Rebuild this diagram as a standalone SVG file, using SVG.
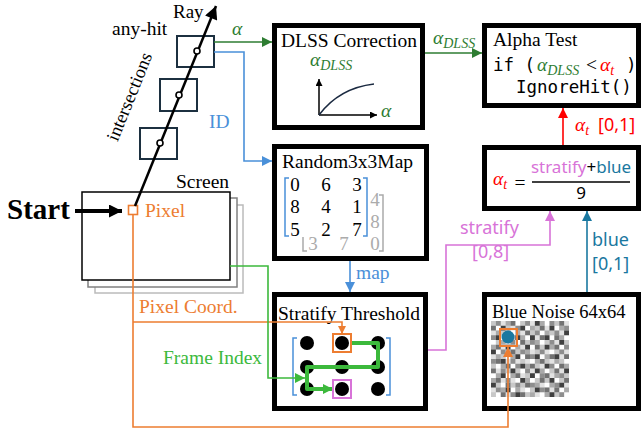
<svg xmlns="http://www.w3.org/2000/svg" width="641" height="430" viewBox="0 0 641 430">
  <style>
    .serif { font-family: "Liberation Serif", serif; font-size: 19.5px; fill: #000; }
    .it { font-style: italic; }
    .sub { font-size: 14px; font-style: italic; }
    .sans { font-family: "Noto Sans", sans-serif; font-size: 18px; }
    .mono { font-family: "DejaVu Sans Mono", monospace; font-size: 17.5px; fill: #000; }
    .box { fill: #fff; stroke: #000; stroke-width: 5; }
    .hit { fill: #fff; stroke: #1c3040; stroke-width: 2; }
    .wire { fill: none; stroke-width: 1.6; }
    .gray { fill: #ababab; }
  </style>
  <defs>
    <marker id="ah-black" viewBox="0 0 10 10" refX="10" refY="5" markerWidth="14" markerHeight="13" markerUnits="userSpaceOnUse" orient="auto"><path d="M0,0 L10,5 L0,10 z" fill="#000"/></marker>
    <marker id="ah-small" viewBox="0 0 10 10" refX="10" refY="5" markerWidth="7" markerHeight="7" markerUnits="userSpaceOnUse" orient="auto"><path d="M0,0 L10,5 L0,10 z" fill="#000"/></marker>
    <marker id="ah-dgreen" viewBox="0 0 10 10" refX="10" refY="5" markerWidth="12" markerHeight="10" markerUnits="userSpaceOnUse" orient="auto"><path d="M0,0 L10,5 L0,10 z" fill="#2e7d32"/></marker>
    <marker id="ah-lgreen" viewBox="0 0 10 10" refX="10" refY="5" markerWidth="11" markerHeight="10" markerUnits="userSpaceOnUse" orient="auto"><path d="M0,0 L10,5 L0,10 z" fill="#3cb93c"/></marker>
    <marker id="ah-blue" viewBox="0 0 10 10" refX="10" refY="5" markerWidth="11" markerHeight="10" markerUnits="userSpaceOnUse" orient="auto"><path d="M0,0 L10,5 L0,10 z" fill="#4a90d9"/></marker>
    <marker id="ah-red" viewBox="0 0 10 10" refX="10" refY="5" markerWidth="11" markerHeight="10" markerUnits="userSpaceOnUse" orient="auto"><path d="M0,0 L10,5 L0,10 z" fill="#ff0000"/></marker>
    <marker id="ah-pink" viewBox="0 0 10 10" refX="10" refY="5" markerWidth="11" markerHeight="10" markerUnits="userSpaceOnUse" orient="auto"><path d="M0,0 L10,5 L0,10 z" fill="#d873d8"/></marker>
    <marker id="ah-teal" viewBox="0 0 10 10" refX="10" refY="5" markerWidth="11" markerHeight="10" markerUnits="userSpaceOnUse" orient="auto"><path d="M0,0 L10,5 L0,10 z" fill="#1a78a0"/></marker>
    <marker id="ah-orange" viewBox="0 0 10 10" refX="10" refY="5" markerWidth="11" markerHeight="10" markerUnits="userSpaceOnUse" orient="auto"><path d="M0,0 L10,5 L0,10 z" fill="#ed7d31"/></marker>
    <marker id="ah-orange-s" viewBox="0 0 10 10" refX="10" refY="5" markerWidth="8" markerHeight="8" markerUnits="userSpaceOnUse" orient="auto"><path d="M0,0 L10,5 L0,10 z" fill="#ed7d31"/></marker>
  </defs>

  <!-- screen with stacked previous frames -->
  <g id="screen">
    <rect x="95" y="205" width="148" height="88" fill="#fff" stroke="#bbbbbb" stroke-width="1.5"/>
    <rect x="88" y="198" width="149" height="89" fill="#fff" stroke="#808080" stroke-width="1.5"/>
    <rect x="82" y="192" width="148" height="88" fill="#fff" stroke="#000" stroke-width="1.5"/>
    <text class="serif" x="176" y="188">Screen</text>
    <text class="serif" x="145" y="217" style="fill:#ed7d31">Pixel</text>
  </g>

  <g id="start">
    <text class="serif" x="7" y="219" style="font-size:29px;font-weight:bold">Start</text>
  </g>

  <!-- ray intersections -->
  <g id="intersections">
    <rect class="hit" x="140" y="128" width="37" height="31"/>
    <rect class="hit" x="160" y="79" width="37" height="32"/>
    <rect class="hit" x="177" y="36" width="37" height="31"/>
    <text class="serif" x="135" y="99" text-anchor="middle" transform="rotate(-68 135 99)" style="font-size:18.5px">intersections</text>
    <text class="serif" x="112" y="35">any-hit</text>
    <text class="serif" x="173" y="18" style="font-size:19px">Ray</text>
  </g>

  <g id="dlss">
    <rect class="box" x="274.5" y="25.5" width="148" height="102"/>
    <text class="serif" x="281" y="47">DLSS Correction</text>
    <text class="serif it" x="310" y="66" style="fill:#2e7d32">α<tspan class="sub" dy="4">DLSS</tspan></text>
    <path d="M319,115 V79" stroke="#000" stroke-width="1.5" fill="none" marker-end="url(#ah-small)"/>
    <path d="M319,115 H377" stroke="#000" stroke-width="1.5" fill="none" marker-end="url(#ah-small)"/>
    <path d="M319,115 C331,99 348,87 374,84" stroke="#1b2a41" stroke-width="1.6" fill="none"/>
    <text class="serif it" x="381" y="117" style="fill:#2e7d32">α</text>
  </g>

  <g id="alpha-test">
    <rect class="box" x="484.5" y="25.5" width="154" height="80"/>
    <text class="serif" x="493" y="46">Alpha Test</text>
    <text class="mono" x="493" y="71">if (</text>
    <text class="serif it" x="537" y="71" style="fill:#2e7d32">α<tspan class="sub" dy="4">DLSS</tspan></text>
    <text class="serif" x="586" y="71">&lt;</text>
    <text class="serif it" x="600" y="71" style="fill:#ff0000">α<tspan class="sub" dy="4">t</tspan></text>
    <text class="mono" x="626" y="71">)</text>
    <text class="mono" x="516" y="93">IgnoreHit()</text>
  </g>

  <g id="threshold-formula">
    <rect class="box" x="484.5" y="147.5" width="154" height="61"/>
    <text class="serif it" x="493" y="185" style="fill:#ff0000">α<tspan class="sub" dy="4">t</tspan></text>
    <text class="serif" x="520" y="189" text-anchor="middle">=</text>
    <line x1="532" y1="182" x2="630" y2="182" stroke="#000" stroke-width="1.5"/>
    <text class="sans" x="581" y="173" text-anchor="middle" style="font-size:17px"><tspan fill="#d873d8">stratify</tspan><tspan fill="#000">+</tspan><tspan fill="#1a78a0">blue</tspan></text>
    <text class="sans" x="581" y="199" text-anchor="middle" style="font-size:17px">9</text>
  </g>

  <g id="random-map">
    <rect class="box" x="274.5" y="146.5" width="152" height="112"/>
    <text class="serif" x="282" y="168">Random3x3Map</text>
    <!-- next frame's matrix, partly hidden -->
    <path d="M379,195 H383 V251 H379 M303,237 V251 H307" fill="none" stroke="#ababab" stroke-width="1.5"/>
    <g class="serif gray" text-anchor="middle" style="font-size:19px">
      <text x="375" y="206">4</text>
      <text x="375" y="228">8</text>
      <text x="375" y="250">0</text>
      <text x="313" y="250">3</text>
      <text x="344" y="250">7</text>
    </g>
    <path d="M289,178 H285 V236 H289 M363,178 H367 V236 H363" fill="none" stroke="#4a90d9" stroke-width="1.5"/>
    <g class="serif" text-anchor="middle" style="font-size:19px">
      <text x="295" y="191">0</text><text x="326" y="191">6</text><text x="357" y="191">3</text>
      <text x="295" y="213">8</text><text x="326" y="213">4</text><text x="357" y="213">1</text>
      <text x="295" y="236">5</text><text x="326" y="236">2</text><text x="357" y="236">7</text>
    </g>
  </g>

  <g id="stratify">
    <rect class="box" x="274.5" y="294.5" width="151" height="114"/>
    <text class="serif" x="278" y="320">Stratify Threshold</text>
    <path d="M297,338 H293 V395 H297 M386,338 H390 V395 H386" fill="none" stroke="#4a90d9" stroke-width="1.5"/>
    <g fill="#000">
      <circle cx="307" cy="343" r="7"/><circle cx="342" cy="343" r="7"/><circle cx="378" cy="343" r="7"/>
      <circle cx="307" cy="367" r="7"/><circle cx="342" cy="367" r="7"/><circle cx="378" cy="367" r="7"/>
      <circle cx="307" cy="389" r="7"/><circle cx="342" cy="389" r="7"/><circle cx="378" cy="389" r="7"/>
    </g>
    <rect x="333" y="334" width="18" height="18" fill="none" stroke="#ed7d31" stroke-width="2"/>
    <path d="M352,343 H378 V367 H307 V389 H333" fill="none" stroke="#3cb93c" stroke-width="4" stroke-linejoin="round" marker-end="url(#ah-lgreen)"/>
    <rect x="333" y="380" width="18" height="18" fill="none" stroke="#d873d8" stroke-width="2"/>
  </g>

  <g id="blue-noise">
    <rect class="box" x="484.5" y="294.5" width="154" height="114"/>
    <text class="serif" x="492" y="318" style="font-size:18.5px">Blue Noise 64x64</text>
    <g transform="translate(491,321) scale(4.875,4.75)">
      <rect x="0" y="0" width="16" height="16" fill="#e2e2e2"/>
      <path fill="#ffffff" d="M5 0h1v1h-1zM11 0h1v1h-1zM1 1h1v1h-1zM7 1h1v1h-1zM13 1h1v1h-1zM4 2h1v1h-1zM10 2h1v1h-1zM2 3h1v1h-1zM7 3h1v1h-1zM12 3h1v1h-1zM15 3h1v1h-1zM0 4h1v1h-1zM5 4h1v1h-1zM10 4h1v1h-1zM4 5h1v1h-1zM8 5h1v1h-1zM14 5h1v1h-1zM1 6h1v1h-1zM12 6h1v1h-1zM3 7h1v1h-1zM6 7h1v1h-1zM10 7h1v1h-1zM8 8h1v1h-1zM15 8h1v1h-1zM1 9h1v1h-1zM4 9h1v1h-1zM13 9h1v1h-1zM6 10h1v1h-1zM11 10h1v1h-1zM0 11h1v1h-1zM3 11h1v1h-1zM9 11h1v1h-1zM5 12h1v1h-1zM8 12h1v1h-1zM13 12h1v1h-1zM2 13h1v1h-1zM11 13h1v1h-1zM4 14h1v1h-1zM7 14h1v1h-1zM14 14h1v1h-1zM1 15h1v1h-1zM10 15h1v1h-1zM15 15h1v1h-1z"/>
      <path fill="#c8c8c8" d="M0 0h1v1h-1zM6 0h1v1h-1zM13 0h1v1h-1zM3 1h1v1h-1zM9 1h1v1h-1zM2 2h1v1h-1zM8 2h1v1h-1zM12 2h1v1h-1zM4 3h1v1h-1zM1 4h1v1h-1zM7 4h1v1h-1zM11 4h1v1h-1zM15 4h1v1h-1zM10 5h1v1h-1zM3 6h1v1h-1zM5 6h1v1h-1zM9 6h1v1h-1zM13 6h1v1h-1zM2 7h1v1h-1zM6 8h1v1h-1zM11 8h1v1h-1zM14 8h1v1h-1zM0 9h1v1h-1zM9 9h1v1h-1zM3 10h1v1h-1zM5 10h1v1h-1zM12 10h1v1h-1zM7 11h1v1h-1zM15 11h1v1h-1zM9 12h1v1h-1zM11 12h1v1h-1zM14 12h1v1h-1zM1 13h1v1h-1zM4 13h1v1h-1zM6 13h1v1h-1zM8 14h1v1h-1zM0 15h1v1h-1zM7 15h1v1h-1zM13 15h1v1h-1z"/>
      <path fill="#aaaaaa" d="M3 0h1v1h-1zM10 0h1v1h-1zM8 1h1v1h-1zM14 1h1v1h-1zM1 2h1v1h-1zM5 2h1v1h-1zM11 2h1v1h-1zM6 3h1v1h-1zM14 3h1v1h-1zM2 4h1v1h-1zM9 4h1v1h-1zM0 5h1v1h-1zM5 5h1v1h-1zM12 5h1v1h-1zM7 6h1v1h-1zM1 7h1v1h-1zM4 7h1v1h-1zM11 7h1v1h-1zM9 8h1v1h-1zM13 8h1v1h-1zM2 9h1v1h-1zM7 9h1v1h-1zM15 9h1v1h-1zM10 10h1v1h-1zM1 11h1v1h-1zM4 11h1v1h-1zM13 11h1v1h-1zM0 12h1v1h-1zM7 12h1v1h-1zM9 13h1v1h-1zM12 13h1v1h-1zM2 14h1v1h-1zM5 14h1v1h-1zM15 14h1v1h-1zM8 15h1v1h-1zM11 15h1v1h-1z"/>
      <path fill="#8e8e8e" d="M1 0h1v1h-1zM7 0h1v1h-1zM12 0h1v1h-1zM5 1h1v1h-1zM15 1h1v1h-1zM3 2h1v1h-1zM9 2h1v1h-1zM13 2h1v1h-1zM0 3h1v1h-1zM4 4h1v1h-1zM8 4h1v1h-1zM12 4h1v1h-1zM15 5h1v1h-1zM2 6h1v1h-1zM6 6h1v1h-1zM10 6h1v1h-1zM14 6h1v1h-1zM8 7h1v1h-1zM0 8h1v1h-1zM4 8h1v1h-1zM5 9h1v1h-1zM12 9h1v1h-1zM2 10h1v1h-1zM7 10h1v1h-1zM10 11h1v1h-1zM14 11h1v1h-1zM3 12h1v1h-1zM5 13h1v1h-1zM8 13h1v1h-1zM13 13h1v1h-1zM1 14h1v1h-1zM10 14h1v1h-1zM4 15h1v1h-1zM14 15h1v1h-1z"/>
      <path fill="#727272" d="M4 0h1v1h-1zM14 0h1v1h-1zM0 1h1v1h-1zM10 1h1v1h-1zM7 2h1v1h-1zM3 3h1v1h-1zM10 3h1v1h-1zM13 3h1v1h-1zM6 4h1v1h-1zM1 5h1v1h-1zM9 5h1v1h-1zM13 5h1v1h-1zM4 6h1v1h-1zM7 7h1v1h-1zM12 7h1v1h-1zM15 7h1v1h-1zM1 8h1v1h-1zM10 8h1v1h-1zM3 9h1v1h-1zM8 9h1v1h-1zM14 9h1v1h-1zM0 10h1v1h-1zM13 10h1v1h-1zM5 11h1v1h-1zM11 11h1v1h-1zM1 12h1v1h-1zM10 12h1v1h-1zM15 12h1v1h-1zM3 13h1v1h-1zM7 13h1v1h-1zM11 14h1v1h-1zM13 14h1v1h-1zM2 15h1v1h-1zM6 15h1v1h-1z"/>
      <path fill="#404040" d="M9 0h1v1h-1zM2 1h1v1h-1zM6 1h1v1h-1zM12 1h1v1h-1zM15 2h1v1h-1zM1 3h1v1h-1zM5 3h1v1h-1zM8 3h1v1h-1zM11 3h1v1h-1zM14 4h1v1h-1zM3 5h1v1h-1zM7 5h1v1h-1zM11 5h1v1h-1zM0 6h1v1h-1zM5 7h1v1h-1zM9 7h1v1h-1zM13 7h1v1h-1zM2 8h1v1h-1zM6 9h1v1h-1zM11 9h1v1h-1zM4 10h1v1h-1zM9 10h1v1h-1zM15 10h1v1h-1zM2 11h1v1h-1zM8 11h1v1h-1zM6 12h1v1h-1zM12 12h1v1h-1zM0 13h1v1h-1zM14 13h1v1h-1zM3 14h1v1h-1zM9 14h1v1h-1zM5 15h1v1h-1zM12 15h1v1h-1z"/>
    </g>
    <circle cx="508" cy="337" r="6.5" fill="#1a78a0"/>
    <rect x="500" y="329" width="17" height="17" fill="none" stroke="#ed7d31" stroke-width="2"/>
  </g>

  <g id="connectors">
    <!-- start into pixel -->
    <path d="M75,211 H122" stroke="#000" stroke-width="4" fill="none" marker-end="url(#ah-black)"/>
    <rect x="128.5" y="205.5" width="9" height="9" fill="#fff" stroke="#ed7d31" stroke-width="1.6"/>
    <!-- ray through intersections -->
    <path d="M135,206 L216,6" stroke="#000" stroke-width="2.5" fill="none" marker-end="url(#ah-black)"/>
    <g fill="#fff" stroke="#000" stroke-width="1.6">
      <circle cx="160" cy="143" r="3"/>
      <circle cx="179" cy="95" r="3"/>
      <circle cx="197" cy="51" r="3"/>
    </g>
    <!-- alpha and id from any-hit -->
    <path class="wire" d="M214,42 H272" stroke="#2e7d32" marker-end="url(#ah-dgreen)"/>
    <text class="serif it" x="232" y="35" style="fill:#2e7d32">α</text>
    <path class="wire" d="M214,52 H244 V161 H272" stroke="#4a90d9" marker-end="url(#ah-blue)"/>
    <text class="serif" x="209" y="128" style="fill:#4a90d9">ID</text>
    <!-- corrected alpha -->
    <path class="wire" d="M425,53 H482" stroke="#2e7d32" marker-end="url(#ah-dgreen)"/>
    <text class="serif it" x="433" y="44" style="fill:#2e7d32">α<tspan class="sub" dy="4">DLSS</tspan></text>
    <!-- map lookup -->
    <path class="wire" d="M350,261 V292" stroke="#4a90d9" marker-end="url(#ah-blue)"/>
    <text class="serif" x="356" y="279" style="fill:#4a90d9">map</text>
    <!-- threshold into alpha test -->
    <path class="wire" d="M563,145 V108" stroke="#ff0000" marker-end="url(#ah-red)"/>
    <text class="serif it" x="575" y="131" style="fill:#ff0000">α<tspan class="sub" dy="4">t</tspan></text>
    <text class="sans" x="598" y="131" style="fill:#ff0000">[0,1]</text>
    <!-- stratify value -->
    <path class="wire" d="M428,350 H446 V245 H550 V211" stroke="#d873d8" marker-end="url(#ah-pink)"/>
    <text class="sans" x="460" y="234" style="fill:#d873d8">stratify</text>
    <text class="sans" x="472" y="258" style="fill:#d873d8">[0,8]</text>
    <!-- blue noise value -->
    <path class="wire" d="M587,292 V211" stroke="#1a78a0" marker-end="url(#ah-teal)"/>
    <text class="sans" x="592" y="246" style="fill:#1a78a0">blue</text>
    <text class="sans" x="592" y="270" style="fill:#1a78a0">[0,1]</text>
    <!-- pixel coordinates -->
    <path class="wire" d="M133,214 V427 H508 V347" stroke="#ed7d31" marker-end="url(#ah-orange)"/>
    <path class="wire" d="M133,322 H342 V334" stroke="#ed7d31" marker-end="url(#ah-orange-s)"/>
    <text class="serif" x="139" y="313" style="fill:#ed7d31">Pixel Coord.</text>
    <!-- frame index -->
    <path class="wire" d="M230,266 H268 V378 H305" stroke="#3cb93c" marker-end="url(#ah-lgreen)"/>
    <text class="serif" x="163" y="364" style="fill:#3cb93c">Frame Index</text>
  </g>
</svg>
